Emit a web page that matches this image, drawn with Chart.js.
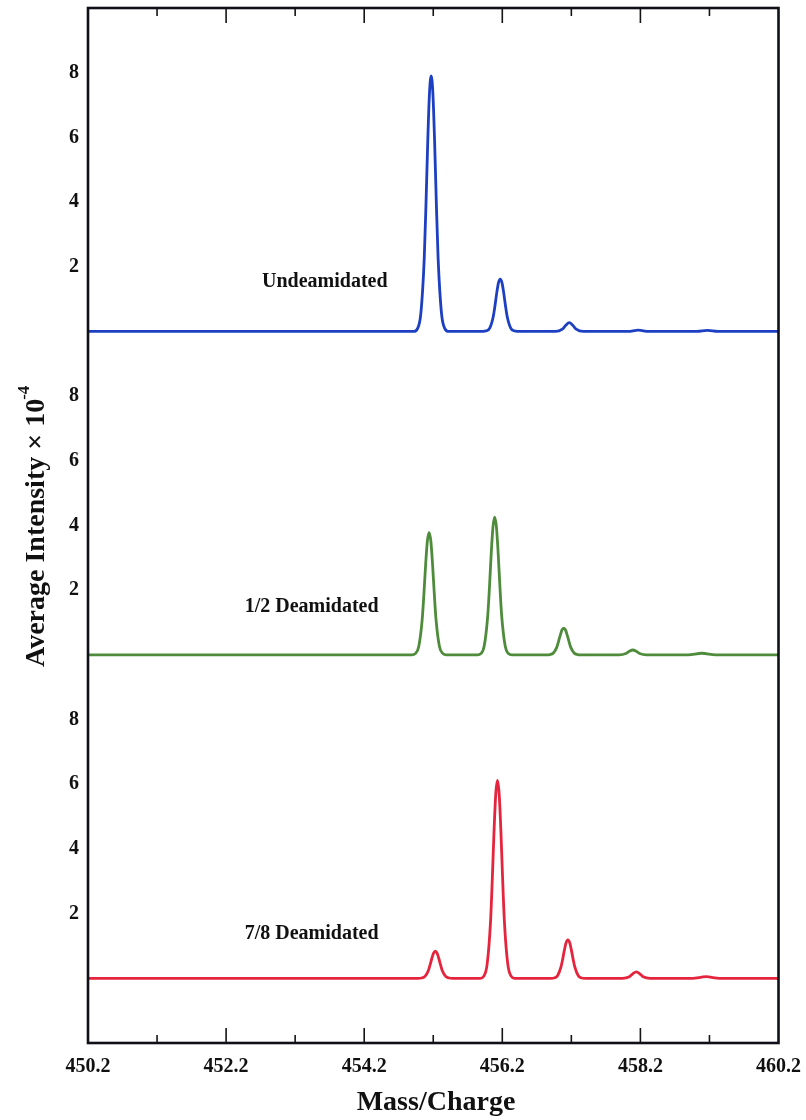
<!DOCTYPE html>
<html>
<head>
<meta charset="utf-8">
<script src="https://cdn.jsdelivr.net/npm/chart.js@4.4.1/dist/chart.umd.min.js"></script>
<style>
  html, body { margin: 0; padding: 0; background: #ffffff; }
  #wrap { width: 806px; height: 1120px; position: relative; }
  canvas { display: block; }
</style>
</head>
<body>
<div id="wrap"><canvas id="c" width="806" height="1120"></canvas></div>
<script>
// ---------- data ----------
const seriesNames = ['Undeamidated', '1/2 Deamidated', '7/8 Deamidated'];
const seriesColors = ['#1d3fc2', '#4e8c3c', '#e4253d'];
const panelOffsets = [20, 10, 0];

const xTickValues = [450.2, 452.2, 454.2, 456.2, 458.2, 460.2];
const xMinorTickValues = [451.2, 453.2, 455.2, 457.2, 459.2];
const yTickValues = [2, 4, 6, 8, 12, 14, 16, 18, 22, 24, 26, 28];
const yTickLabels = ['2', '4', '6', '8', '2', '4', '6', '8', '2', '4', '6', '8'];

// Undeamidated (blue)
const undeamMz = [450.2,
  454.92, 454.97, 455.02, 455.07, 455.095, 455.12, 455.145, 455.17, 455.195, 455.22, 455.245, 455.27, 455.32, 455.37, 455.42,
  455.92, 455.97, 456.02, 456.07, 456.095, 456.12, 456.145, 456.17, 456.195, 456.22, 456.245, 456.27, 456.32, 456.37, 456.42,
  456.97, 457.07, 457.12, 457.17, 457.22, 457.27, 457.37,
  458.02, 458.17, 458.32,
  459.02, 459.17, 459.32,
  460.2];
const undeamInt = [0,
  0, 0.08, 0.55, 2.29, 3.95, 5.85, 7.35, 7.9, 7.35, 5.85, 3.95, 2.29, 0.55, 0.08, 0,
  0, 0.02, 0.11, 0.47, 0.81, 1.2, 1.51, 1.62, 1.51, 1.2, 0.81, 0.47, 0.11, 0.02, 0,
  0, 0.07, 0.19, 0.27, 0.19, 0.07, 0,
  0, 0.04, 0,
  0, 0.03, 0,
  0];

// 1/2 Deamidated (green)
const halfMz = [450.2,
  454.89, 454.94, 454.99, 455.04, 455.065, 455.09, 455.115, 455.14, 455.165, 455.19, 455.215, 455.24, 455.29, 455.34, 455.39,
  455.84, 455.89, 455.94, 455.99, 456.015, 456.04, 456.065, 456.09, 456.115, 456.14, 456.165, 456.19, 456.24, 456.29, 456.34,
  456.84, 456.89, 456.94, 456.99, 457.015, 457.04, 457.065, 457.09, 457.115, 457.14, 457.165, 457.19, 457.24, 457.29, 457.34,
  457.89, 457.99, 458.04, 458.09, 458.14, 458.19, 458.29,
  458.89, 459.09, 459.29,
  460.2];
const halfInt = [0,
  0, 0.04, 0.26, 1.10, 1.89, 2.80, 3.52, 3.78, 3.52, 2.80, 1.89, 1.10, 0.26, 0.04, 0,
  0, 0.04, 0.30, 1.24, 2.13, 3.15, 3.96, 4.26, 3.96, 3.15, 2.13, 1.24, 0.30, 0.04, 0,
  0, 0.01, 0.06, 0.24, 0.42, 0.61, 0.77, 0.83, 0.77, 0.61, 0.42, 0.24, 0.06, 0.01, 0,
  0, 0.04, 0.11, 0.15, 0.11, 0.04, 0,
  0, 0.05, 0,
  0];

// 7/8 Deamidated (red)
const sevenMz = [450.2,
  454.98, 455.03, 455.08, 455.13, 455.155, 455.18, 455.205, 455.23, 455.255, 455.28, 455.305, 455.33, 455.38, 455.43, 455.48,
  455.88, 455.93, 455.98, 456.03, 456.055, 456.08, 456.105, 456.13, 456.155, 456.18, 456.205, 456.23, 456.28, 456.33, 456.38,
  456.90, 456.95, 457.00, 457.05, 457.075, 457.10, 457.125, 457.15, 457.175, 457.20, 457.225, 457.25, 457.30, 457.35, 457.40,
  457.94, 458.04, 458.09, 458.14, 458.19, 458.24, 458.34,
  458.95, 459.15, 459.35,
  460.2];
const sevenInt = [0,
  0, 0.01, 0.06, 0.24, 0.42, 0.62, 0.78, 0.84, 0.78, 0.62, 0.42, 0.24, 0.06, 0.01, 0,
  0, 0.06, 0.43, 1.77, 3.06, 4.53, 5.69, 6.12, 5.69, 4.53, 3.06, 1.77, 0.43, 0.06, 0,
  0, 0.01, 0.08, 0.35, 0.60, 0.88, 1.11, 1.19, 1.11, 0.88, 0.60, 0.35, 0.08, 0.01, 0,
  0, 0.05, 0.14, 0.2, 0.14, 0.05, 0,
  0, 0.05, 0,
  0];

const labelMz = [452.72, 452.47, 452.47];
const labelLevel = [1.53, 1.48, 1.37];

// ---------- build ----------
const mzSets = [undeamMz, halfMz, sevenMz];
const intSets = [undeamInt, halfInt, sevenInt];
const datasets = seriesNames.map((name, i) => ({
  label: name,
  data: mzSets[i].map((m, k) => ({ x: m, y: intSets[i][k] + panelOffsets[i] })),
  borderColor: seriesColors[i],
  borderWidth: 2.8,
  pointRadius: 0,
  fill: false,
  cubicInterpolationMode: 'monotone'
}));

const SERIF = '"Liberation Serif", "Times New Roman", serif';

const framePlugin = {
  id: 'frame',
  afterDraw(chart) {
    const { ctx, chartArea: a, scales: { x, y } } = chart;
    ctx.save();
    // inward ticks
    ctx.strokeStyle = '#141414';
    ctx.lineWidth = 1.6;
    const drawTick = (v, len) => {
      const px = x.getPixelForValue(v);
      ctx.beginPath();
      ctx.moveTo(px, a.top); ctx.lineTo(px, a.top + len);
      ctx.moveTo(px, a.bottom); ctx.lineTo(px, a.bottom - len);
      ctx.stroke();
    };
    xTickValues.slice(1, -1).forEach(v => drawTick(v, 15));
    xMinorTickValues.forEach(v => drawTick(v, 8));
    // frame
    ctx.lineWidth = 2.6;
    ctx.strokeStyle = '#101018';
    ctx.strokeRect(a.left, a.top, a.right - a.left, a.bottom - a.top);

    // series labels
    ctx.fillStyle = '#111';
    ctx.font = 'bold 20px ' + SERIF;
    ctx.textAlign = 'left';
    ctx.textBaseline = 'middle';
    seriesNames.forEach((n, i) => {
      ctx.fillText(n, x.getPixelForValue(labelMz[i]), y.getPixelForValue(labelLevel[i] + panelOffsets[i]));
    });

    // x title
    ctx.font = 'bold 28px ' + SERIF;
    ctx.textAlign = 'center';
    ctx.textBaseline = 'middle';
    ctx.fillText('Mass/Charge', 436, 1103);

    // y title (rotated with superscript)
    ctx.save();
    ctx.translate(44, 667);
    ctx.rotate(-Math.PI / 2);
    ctx.textAlign = 'left';
    ctx.textBaseline = 'alphabetic';
    ctx.font = 'bold 28px ' + SERIF;
    const main = 'Average Intensity \u00d7 10';
    ctx.fillText(main, 0, 0);
    const w = ctx.measureText(main).width;
    ctx.font = 'bold 17px ' + SERIF;
    ctx.fillText('-4', w - 1, -15);
    ctx.restore();

    ctx.restore();
  }
};

new Chart(document.getElementById('c'), {
  type: 'line',
  data: { datasets },
  options: {
    responsive: false,
    animation: false,
    layout: { padding: { top: 8, right: 27.5, left: 0, bottom: 0 } },
    plugins: { legend: { display: false }, tooltip: { enabled: false } },
    scales: {
      x: {
        type: 'linear',
        min: 450.2, max: 460.2,
        grid: { display: false, drawTicks: false },
        border: { display: false },
        afterBuildTicks: s => { s.ticks = xTickValues.map(v => ({ value: v })); },
        afterFit: s => { s.height = 77; s.paddingLeft = 0; s.paddingRight = 0; },
        ticks: {
          padding: 12,
          color: '#111',
          font: { family: SERIF, size: 20, weight: 'bold' },
          callback: v => v.toFixed(1)
        }
      },
      y: {
        type: 'linear',
        min: -2, max: 30,
        grid: { display: false, drawTicks: false },
        border: { display: false },
        afterBuildTicks: s => { s.ticks = yTickValues.map(v => ({ value: v })); },
        afterFit: s => { s.width = 88; s.paddingTop = 0; s.paddingBottom = 0; },
        ticks: {
          padding: 9,
          color: '#111',
          font: { family: SERIF, size: 20, weight: 'bold' },
          callback: (v, i) => yTickLabels[i]
        }
      }
    }
  },
  plugins: [framePlugin]
});
</script>
</body>
</html>
